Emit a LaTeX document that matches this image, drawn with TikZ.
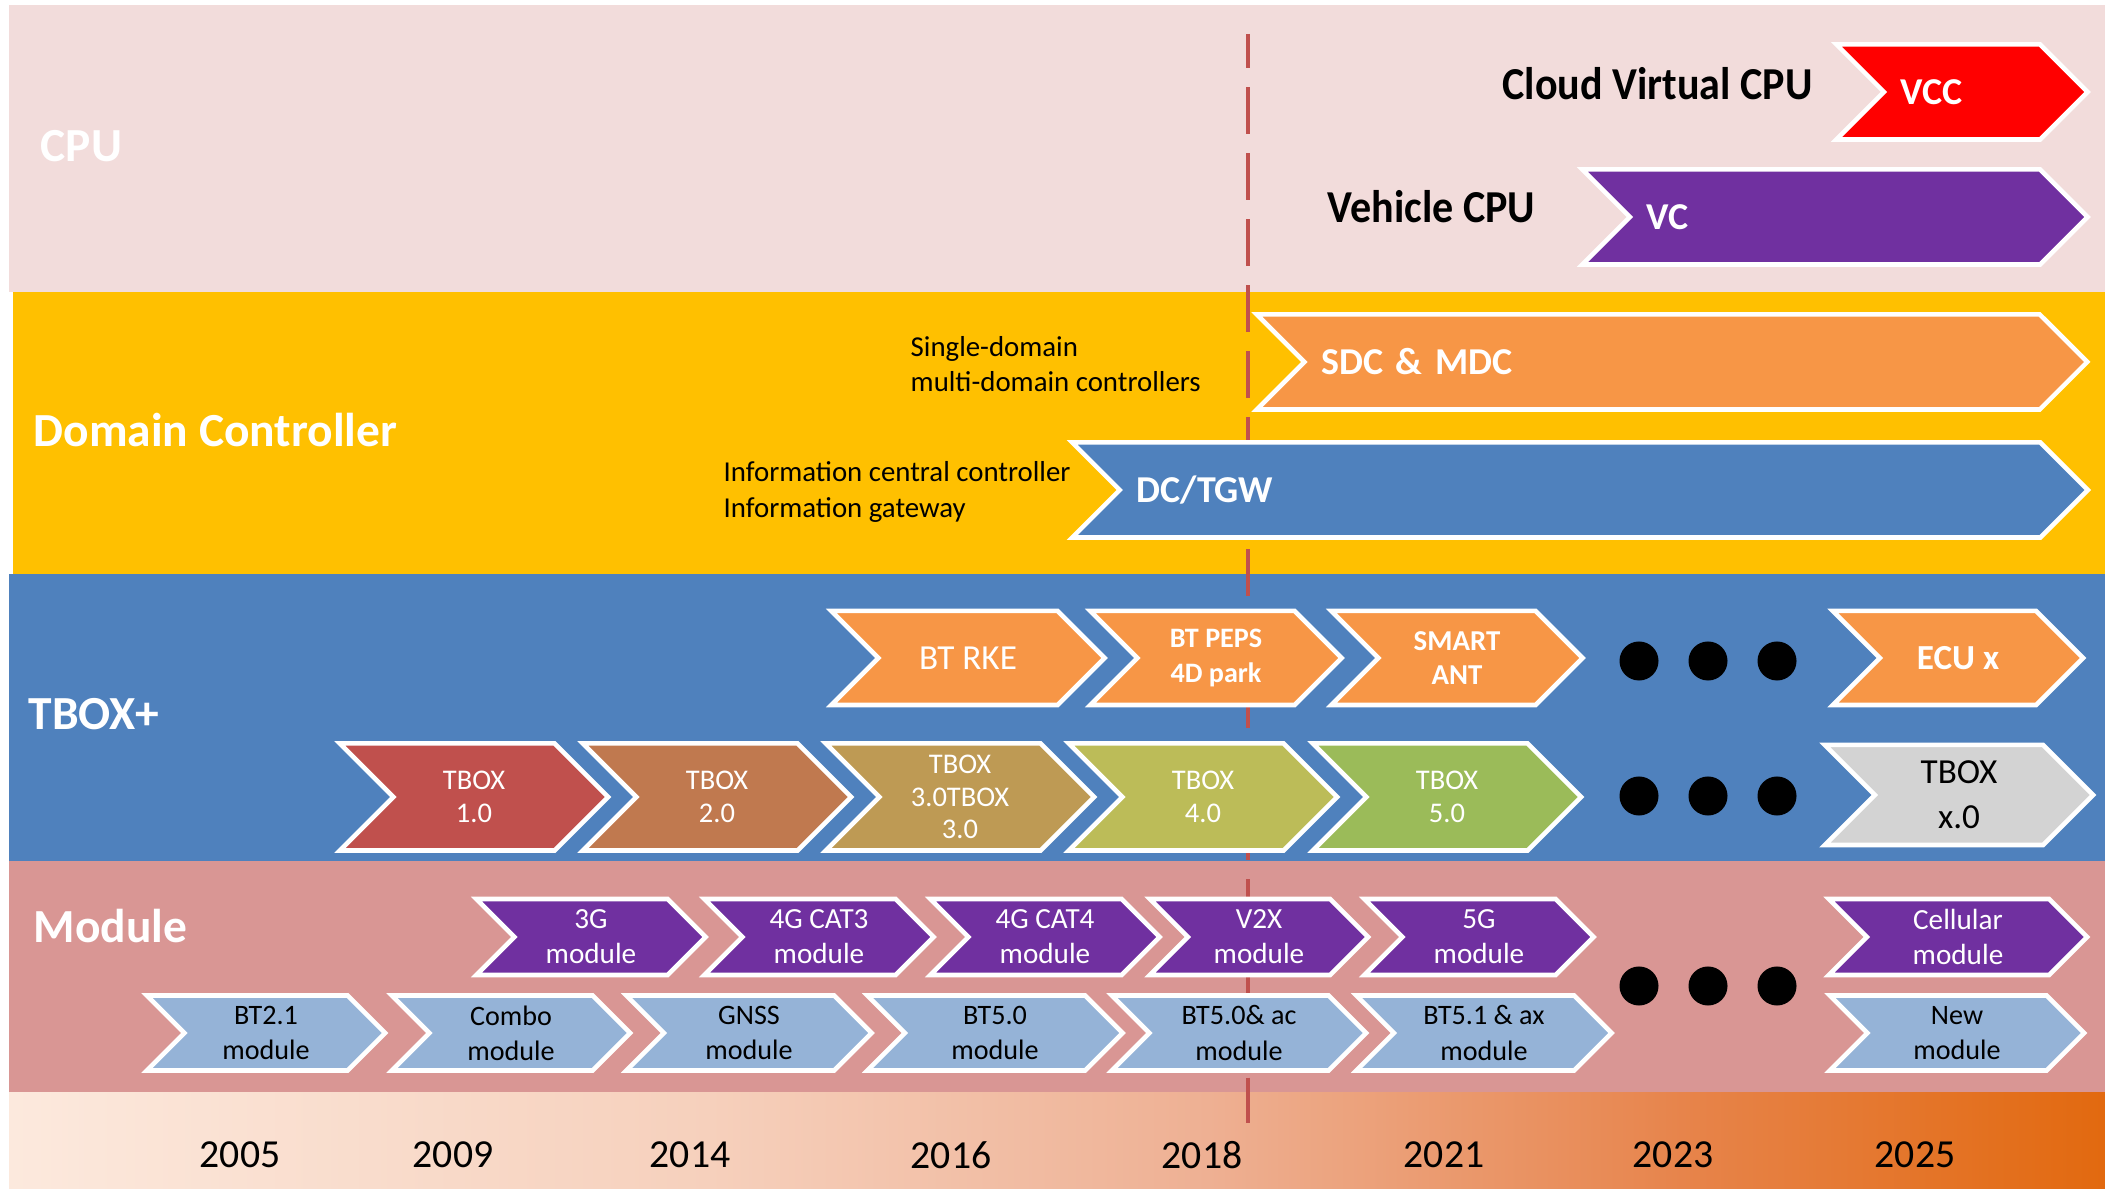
\documentclass[tikz,border=0pt]{standalone}
\usepackage{fontspec}
\setmainfont{Carlito}
\newfontfamily\cpufont{Carlito}[FakeStretch=0.92]
\usepackage{tikz}
\usetikzlibrary{shapes.symbols,positioning}
\definecolor{cpubg}{HTML}{F2DCDB}
\definecolor{dcbg}{HTML}{FFC000}
\definecolor{tboxbg}{HTML}{4F81BD}
\definecolor{modbg}{HTML}{D99694}
\definecolor{vccred}{HTML}{FF0000}
\definecolor{vcpurple}{HTML}{7030A0}
\definecolor{chevorange}{HTML}{F79646}
\definecolor{chevblue}{HTML}{4F81BD}
\definecolor{modblue}{HTML}{95B3D7}
\definecolor{tboxa}{HTML}{C0504D}
\definecolor{tboxb}{HTML}{C0794F}
\definecolor{tboxc}{HTML}{BE9A54}
\definecolor{tboxd}{HTML}{BCBC58}
\definecolor{tboxe}{HTML}{9BBB59}
\definecolor{tboxx}{HTML}{D3D3D3}
\definecolor{milered}{HTML}{C0504D}
\definecolor{yeara}{HTML}{FCE9DD}
\definecolor{yearb}{HTML}{F6D0BC}
\definecolor{yearc}{HTML}{EEB093}
\definecolor{yeard}{HTML}{E7844B}
\definecolor{yeare}{HTML}{E2690F}
\pgfdeclarehorizontalshading{yearfade}{100bp}{color(0bp)=(yeara); color(25bp)=(yeara); color(41.7bp)=(yearb); color(53.6bp)=(yearc); color(64.9bp)=(yeard); color(75bp)=(yeare); color(100bp)=(yeare)}

\begin{document}
\begin{tikzpicture}[x=0.01cm, y=-0.01cm,
  chev/.style={signal, signal from=west, signal to=east, signal pointer angle=90,
    draw=white, line width=1.3pt, inner sep=0pt, align=center, text=white},
  widechev/.style={chev, align=left, minimum height=0.95cm,
    font=\bfseries\fontsize{10.8}{13}\selectfont},
  ecuchev/.style={chev, fill=chevorange, minimum height=0.94cm},
  tboxchev/.style={chev, minimum width=2.68cm, minimum height=1.07cm,
    font=\fontsize{8.1}{9.2}\selectfont},
  cellchev/.style={chev, fill=vcpurple, minimum height=0.76cm,
    font=\fontsize{8.3}{10}\selectfont},
  btchev/.style={chev, fill=modblue, text=black, minimum height=0.75cm,
    font=\fontsize{8}{10}\selectfont},
  bandlabel/.style={anchor=base west, inner sep=0pt, text=white,
    font=\bfseries\fontsize{13.5}{16}\selectfont},
  cpulabel/.style={anchor=base west, inner sep=0pt,
    font=\cpufont\bfseries\fontsize{13}{16}\selectfont},
  note/.style={anchor=west, inner sep=0pt, align=left,
    font=\fontsize{8.2}{10}\selectfont},
  dot/.style={circle, fill=black, inner sep=0pt, minimum size=0.39cm},
  year/.style={inner sep=0pt, font=\fontsize{11.3}{13}\selectfont},
  milestone/.style={milered, line width=1.1pt,
    dash pattern=on 0.47cm off 0.19cm, dash phase=0.13cm}]

\useasboundingbox (0,0) rectangle (2105,1189);
\fill[white] (0,0) rectangle (2105,1189);

% bands
\fill[cpubg]  (9,5)     rectangle (2105,292);
\fill[dcbg]   (13,292)  rectangle (2105,574);
\fill[tboxbg] (9,574)   rectangle (2105,861);
\fill[modbg]  (9,861)   rectangle (2105,1093);
\fill[shading=yearfade] (9,1093) rectangle (2105,1189);

\node[bandlabel] (lcpu)  at (40,162) {CPU};
\node[bandlabel] (ldc)   at (33,447) {Domain Controller};
\node[bandlabel] (ltbox) at (28,730) {TBOX+};
\node[bandlabel] (lmod)  at (33,943) {Module};

% milestone 2018
\coordinate (mtop) at (1248,34);
\coordinate (mbot) at (1248,1123);
\draw[milestone] (mtop) -- (mbot);

% CPU
\node[cpulabel] (lcloud) at (1502,100) {Cloud Virtual CPU};
\node[cpulabel] (lveh)   at (1327,223) {Vehicle CPU};
\node[widechev, fill=vccred, minimum width=2.51cm, text width=1.22cm] (vcc) at (1962,92) {VCC};
\node[widechev, fill=vcpurple, minimum width=5.05cm, text width=3.76cm] (vc) at (1835,217) {VC};

% domain controller
\node[note] (nsdc) at (910,364) {Single-domain\\multi-domain controllers};
\node[note] (ndc)  at (723,492) {Information central controller\\Information gateway};
\node[widechev, fill=chevorange, minimum width=8.30cm, text width=7.01cm] (sdc) at (1672,362) {SDC \& MDC};
\node[widechev, fill=chevblue, minimum width=10.15cm, text width=8.86cm] (dctgw) at (1580,490) {DC/TGW};

% TBOX+
\node[ecuchev, minimum width=2.73cm, font=\fontsize{10}{12}\selectfont] (btrke) at (968,658) {BT RKE};
\node[ecuchev, minimum width=2.51cm, font=\bfseries\fontsize{8}{9.7}\selectfont] (btpeps) at (1216,658) {BT PEPS\\4D park};
\node[ecuchev, minimum width=2.51cm, font=\bfseries\fontsize{8.2}{9.7}\selectfont] (smart) at (1457,658) {SMART\\ANT};
\node[ecuchev, minimum width=2.50cm, font=\bfseries\fontsize{10}{12}\selectfont] (ecux) at (1958,658) {ECU x};

\foreach \n/\x/\c/\t in {% name/centre/colour/text
    tb1/474/tboxa/{TBOX\\1.0},
    tb2/717/tboxb/{TBOX\\2.0},
    tb3/960/tboxc/{TBOX\\3.0TBOX\\3.0},
    tb4/1203/tboxd/{TBOX\\4.0},
    tb5/1447/tboxe/{TBOX\\5.0}}
  \node[tboxchev, fill=\c] (\n) at (\x,797) {\t};
\node[tboxchev, fill=tboxx, text=black, minimum height=1.00cm,
  font=\fontsize{10}{12.8}\selectfont] (tbx) at (1959,795) {TBOX\\x.0};

% module
\foreach \n/\x/\w/\t in {
    m3g/591/2.29/{3G\\module},
    m4gc3/819/2.29/{4G CAT3\\module},
    m4gc4/1045/2.29/{4G CAT4\\module},
    mv2x/1259/2.18/{V2X\\module},
    m5g/1479/2.29/{5G\\module},
    mcell/1958/2.58/{Cellular\\module}}
  \node[cellchev, minimum width=\w cm] (\n) at (\x,937) {\t};

\foreach \n/\x/\w/\t in {
    mbt21/266/2.38/{BT2.1\\module},
    mcombo/511/2.38/{Combo\\module},
    mgnss/749/2.45/{GNSS\\module},
    mbt50/995/2.55/{BT5.0\\module},
    mbt50ac/1239/2.54/{BT5.0\& ac\\module},
    mbt51ax/1484/2.55/{BT5.1 \& ax\\module},
    mnew/1957/2.54/{New\\module}}
  \node[btchev, minimum width=\w cm] (\n) at (\x,1033) {\t};

% more to come
\foreach \r/\y in {a/661, b/796, c/986}
  \foreach \i/\x in {1/1639, 2/1708, 3/1777}
    \node[dot] (dot\r\i) at (\x,\y) {};

% years
\foreach \yr/\x in {2005/240, 2009/453, 2014/690, 2016/951, 2018/1202, 2021/1444, 2023/1673, 2025/1915}
  \node[year] (y\yr) at (\x,1155) {\yr};

\end{tikzpicture}
\end{document}
